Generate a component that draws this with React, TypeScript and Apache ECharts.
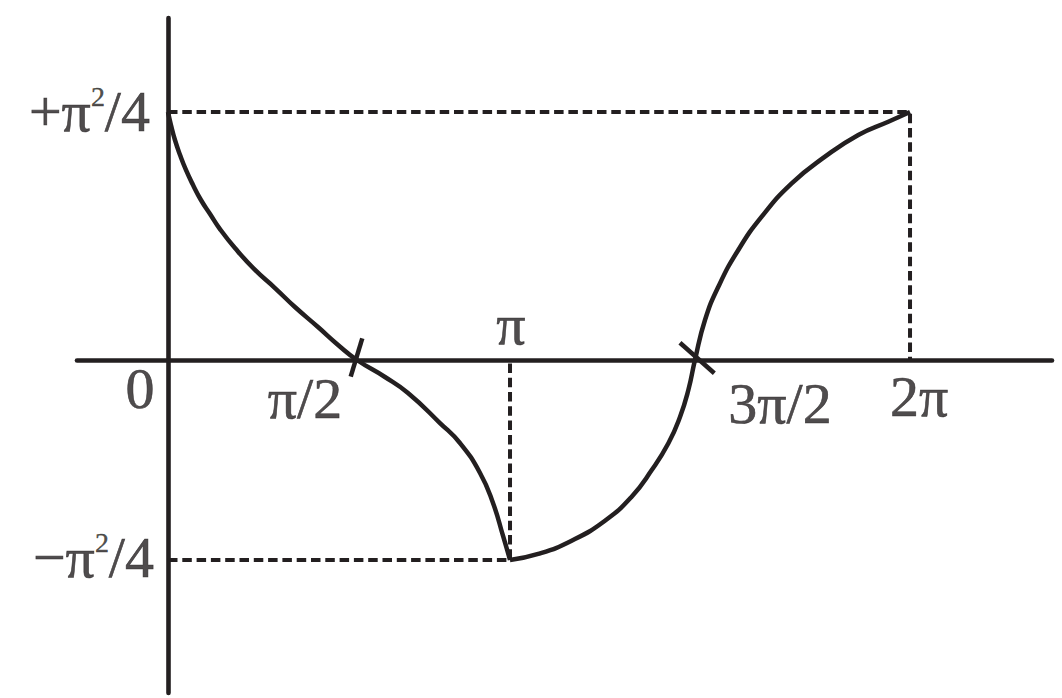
import React, { useEffect, useRef } from "react";
import * as echarts from "echarts";

// Tick positions as drawn in the sketch (horizontal unit ≈ radians, vertical unit as drawn)
const X_TICK_VALUES = [0, 1.6, 2.896, 4.462, 6.283];
const X_TICK_LABELS = ["0", "π/2", "π", "3π/2", "2π"];
const Y_TICK_VALUES = [2.467, -1.99];
const Y_TICK_LABELS = ["+π{s|2}/4", "−π{s|2}/4"];

// Curve: from 0 to π
const CURVE_TO_PI: [number, number][] = [
  [0, 2.467], [0.025, 2.338], [0.059, 2.189], [0.102, 2.04], [0.152, 1.891],
  [0.212, 1.741], [0.279, 1.592], [0.356, 1.453], [0.44, 1.303], [0.567, 1.114],
  [0.737, 0.896], [0.906, 0.716], [1.075, 0.527], [1.27, 0.328], [1.44, 0.15],
  [1.6, 0], [1.837, -0.169], [2.032, -0.328], [2.303, -0.627], [2.472, -0.826],
  [2.642, -1.124], [2.752, -1.423], [2.837, -1.751], [2.896, -1.99],
];
// Curve: from π to 2π
const CURVE_FROM_PI: [number, number][] = [
  [2.896, -1.99], [3.135, -1.93], [3.418, -1.798], [3.7, -1.599], [3.926, -1.36],
  [4.096, -1.095], [4.237, -0.829], [4.336, -0.564], [4.406, -0.299], [4.462, 0],
  [4.547, 0.398], [4.66, 0.729], [4.829, 1.095], [5.027, 1.426], [5.281, 1.758],
  [5.563, 2.023], [5.845, 2.239], [6.099, 2.371], [6.283, 2.467],
];
// Small slanted marks where the curve crosses the axis
const CROSS_MARK_HALF_PI: [number, number][] = [[1.645, 0.216], [1.547, -0.166]];
const CROSS_MARK_3HALF_PI: [number, number][] = [[4.335, 0.172], [4.626, -0.132]];

const INK = "#231f20";
const FONT = "'Liberation Serif', 'Times New Roman', serif";
const X_LABEL_OFFSETS = [[-28, 28], [-52, 38], [1, -36], [85, 43], [9, 36]];
const Y_LABEL_OFFSETS = [[-18, -1], [-14, -2]];

function buildOption() {
  const top = Y_TICK_VALUES[0];
  const bottom = Y_TICK_VALUES[1];
  const xPi = X_TICK_VALUES[2];
  const x2Pi = X_TICK_VALUES[4];
  const axisCommon = {
    type: "value",
    axisLine: { show: true, onZero: true, lineStyle: { color: INK, width: 4.6 } },
    axisTick: { show: false },
    axisLabel: { show: false },
    splitLine: { show: false },
  };
  const dashed = { color: INK, width: 4, type: [9.5, 4.8] };
  const solidLine = (data: [number, number][], z: number, smooth: number | boolean) => ({
    type: "line",
    data,
    smooth,
    symbol: "none",
    silent: true,
    z,
    lineStyle: { color: INK, width: 4.5, cap: "butt", join: "round" },
  });
  const textInk = {
    color: INK,
    textBorderColor: INK,
    textBorderWidth: 0.6,
    fontFamily: FONT,
  };
  const labelBase = {
    show: true,
    position: [0, 0],
    ...textInk,
    fontSize: 58,
    lineHeight: 58,
    verticalAlign: "middle",
  };
  return {
    animation: false,
    backgroundColor: "#ffffff",
    grid: { left: 77, right: 10, top: 18, bottom: 5, containLabel: false },
    xAxis: { ...axisCommon, min: -0.7705, max: 7.4852 },
    yAxis: { ...axisCommon, min: -3.3134, max: 3.403 },
    series: [
      {
        type: "line",
        data: [[0, top], [x2Pi, top], [x2Pi, 0]],
        symbol: "none",
        silent: true,
        z: 2,
        lineStyle: dashed,
      },
      {
        type: "line",
        data: [[0, bottom], [xPi, bottom], [xPi, 0]],
        symbol: "none",
        silent: true,
        z: 2,
        lineStyle: dashed,
      },
      solidLine(CURVE_TO_PI, 4, 0.5),
      solidLine(CURVE_FROM_PI, 4, 0.5),
      solidLine(CROSS_MARK_HALF_PI, 5, false),
      solidLine(CROSS_MARK_3HALF_PI, 5, false),
      {
        type: "scatter",
        symbolSize: 0,
        silent: true,
        z: 6,
        itemStyle: { color: INK },
        label: { ...labelBase, align: "center" },
        data: X_TICK_VALUES.map((v, i) => ({
          value: [v, 0],
          label: { formatter: X_TICK_LABELS[i], offset: X_LABEL_OFFSETS[i] },
        })),
      },
      {
        type: "scatter",
        symbolSize: 0,
        silent: true,
        z: 6,
        itemStyle: { color: INK },
        label: {
          ...labelBase,
          align: "right",
          rich: {
            s: {
              ...textInk,
              textBorderWidth: 0.4,
              fontSize: 28,
              lineHeight: 21,
              verticalAlign: "top",
            },
          },
        },
        data: Y_TICK_VALUES.map((v, i) => ({
          value: [0, v],
          label: { formatter: Y_TICK_LABELS[i], offset: Y_LABEL_OFFSETS[i] },
        })),
      },
    ],
  };
}

export default function App() {
  const ref = useRef<HTMLDivElement>(null);
  useEffect(() => {
    if (!ref.current) return;
    const chart = echarts.init(ref.current, undefined, { renderer: "svg" });
    chart.setOption(buildOption() as any);
    return () => chart.dispose();
  }, []);
  return (
    <div
      ref={ref}
      style={{ position: "fixed", left: 0, top: 0, width: 1062, height: 698, background: "#ffffff" }}
    />
  );
}
